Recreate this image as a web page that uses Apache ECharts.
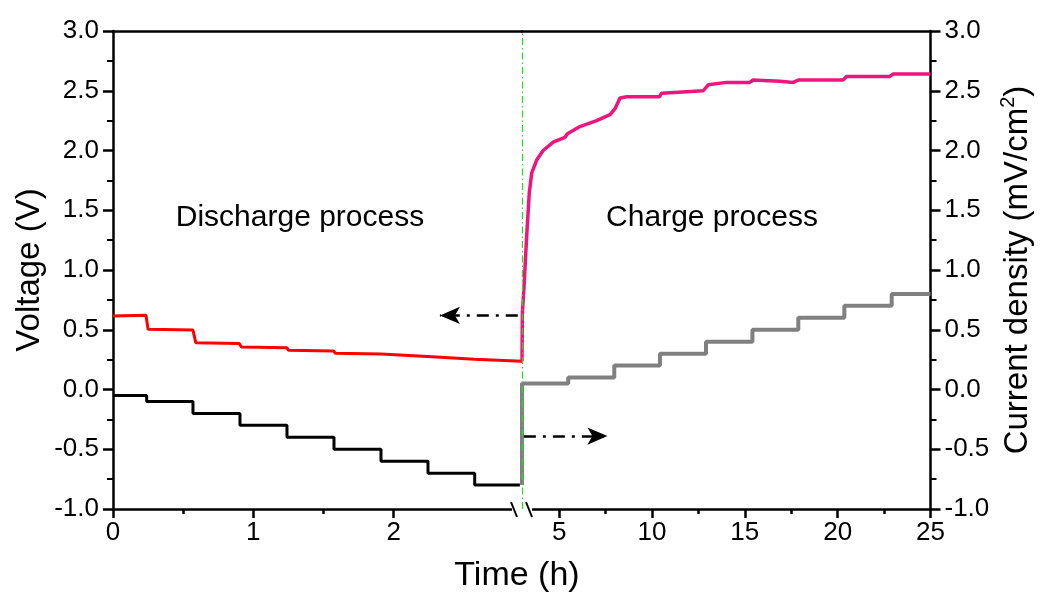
<!DOCTYPE html>
<html><head><meta charset="utf-8">
<script src="https://cdn.jsdelivr.net/npm/echarts@6/dist/echarts.min.js"></script>
<style>html,body{margin:0;padding:0;background:#fff}#c{width:1047px;height:597px}</style>
</head><body><div id="c"></div>
<script>
const FONT = '"Liberation Sans", Arial, Helvetica, sans-serif';

// ---- data (time in h, voltage in V, current density) ----
const dischargeVoltage = [
  [0, 0.615], [0.235, 0.622], [0.25, 0.505], [0.57, 0.497], [0.59, 0.392], [0.9, 0.384],
  [0.915, 0.356], [1.24, 0.35], [1.25, 0.328], [1.572, 0.322], [1.585, 0.303], [1.91, 0.297],
  [1.92, 0.282], [2.242, 0.276], [2.252, 0.26], [2.575, 0.254], [2.585, 0.242], [2.915, 0.236]
];
const dischargeCurrentTime = [0, 0.24, 0.57, 0.905, 1.24, 1.575, 1.91, 2.245, 2.578];
const dischargeCurrentValue = [-0.05, -0.1, -0.2, -0.3, -0.4, -0.5, -0.6, -0.7, -0.8];
const dischargeEnd = 2.9;

const chargeVoltage = [
  [3.0, 0.236], [3.01, 0.45], [3.02, 0.64], [3.11, 0.86], [3.25, 1.28], [3.39, 1.64],
  [3.52, 1.81], [3.79, 1.92], [4.14, 2.0], [4.68, 2.07], [5.31, 2.11], [5.45, 2.14],
  [6.12, 2.2], [7.02, 2.25], [7.74, 2.3], [8.01, 2.35], [8.28, 2.44], [8.64, 2.45],
  [10.4, 2.45], [10.52, 2.48], [12.76, 2.5], [13.03, 2.55], [14.02, 2.57], [15.27, 2.57],
  [15.45, 2.59], [16.89, 2.58], [17.61, 2.57], [17.88, 2.59], [20.29, 2.59], [20.48, 2.62],
  [22.81, 2.62], [22.99, 2.64], [25, 2.64]
];
const chargeCurrentTime = [3.0, 3.0, 5.49, 7.97, 10.43, 12.91, 15.41, 17.88, 20.36, 22.91];
const chargeCurrentValue = [-0.8, 0.05, 0.1, 0.2, 0.3, 0.4, 0.5, 0.6, 0.7, 0.8];
const chargeEnd = 25;

const leftTicks = [0, 1, 2];
const leftMinorTicks = [0.5, 1.5];
const rightTicks = [5, 10, 15, 20, 25];
const rightMinorTicks = [7.5, 12.5, 17.5, 22.5];
const yMin = -1, yMax = 3, yStep = 0.5;

const leftRange = [0, 2.915];
const rightRange = [3.0, 25];

function stepPairs(times, values, endT) {
  const d = times.map((t, i) => [t, values[i]]);
  d.push([endT, values[values.length - 1]]);
  return d;
}

const axisLineStyle = { color: '#000', width: 2.5 };
const labelStyle = { color: '#000', fontSize: 26, fontFamily: FONT };

function xMain(grid, range, ticks) {
  return {
    type: 'value', gridIndex: grid, position: 'bottom', min: range[0], max: range[1],
    axisLine: { show: true, onZero: false, lineStyle: axisLineStyle },
    axisTick: { show: true, inside: false, length: 9, customValues: ticks, lineStyle: { width: 2.5, color: '#000' } },
    axisLabel: Object.assign({ show: true, margin: 11, customValues: ticks }, labelStyle),
    splitLine: { show: false }
  };
}
function xMinor(grid, range, ticks) {
  return {
    type: 'value', gridIndex: grid, position: 'bottom', min: range[0], max: range[1],
    axisLine: { show: false, onZero: false },
    axisTick: { show: true, inside: false, length: 5, customValues: ticks, lineStyle: { width: 2.5, color: '#000' } },
    axisLabel: { show: false, customValues: ticks },
    splitLine: { show: false }
  };
}
function xTop(grid, range) {
  return {
    type: 'value', gridIndex: grid, position: 'top', min: range[0], max: range[1],
    axisLine: { show: true, onZero: false, lineStyle: axisLineStyle },
    axisTick: { show: false }, axisLabel: { show: false }, splitLine: { show: false }
  };
}
function yAx(grid, pos, name, nameGap) {
  return {
    type: 'value', gridIndex: grid, position: pos, min: yMin, max: yMax, interval: yStep,
    name: name, nameLocation: 'middle', nameGap: nameGap, nameRotate: 90,
    nameTextStyle: {
      color: '#000', fontSize: 33, fontFamily: FONT,
      rich: {
        a: { color: '#000', fontSize: 33, fontFamily: FONT, lineHeight: 38 },
        s: { color: '#000', fontSize: 20, fontFamily: FONT, lineHeight: 38, verticalAlign: 'top' }
      }
    },
    axisLine: { show: true, onZero: false, lineStyle: axisLineStyle },
    axisTick: { show: true, inside: false, length: 10, lineStyle: { width: 2.5, color: '#000' } },
    minorTick: { show: true, splitNumber: 2, length: 6, lineStyle: { width: 2, color: '#000' } },
    axisLabel: Object.assign({ margin: 14, formatter: v => v.toFixed(1) }, labelStyle),
    splitLine: { show: false }, minorSplitLine: { show: false }
  };
}

const chart = echarts.init(document.getElementById('c'), null, { renderer: 'canvas' });
chart.setOption({
  backgroundColor: '#fff',
  animation: false,
  grid: [
    { left: 113, top: 31, width: 409, bottom: 88, containLabel: false },
    { left: 522, top: 31, right: 116.5, bottom: 88, containLabel: false }
  ],
  xAxis: [
    xMain(0, leftRange, leftTicks), xMinor(0, leftRange, leftMinorTicks), xTop(0, leftRange),
    xMain(1, rightRange, rightTicks), xMinor(1, rightRange, rightMinorTicks), xTop(1, rightRange)
  ],
  yAxis: [
    yAx(0, 'left', '{a|Voltage (V)}', 64),
    yAx(1, 'right', '{a|Current density (mV/cm}{s|2}{a|)}', 68)
  ],
  series: [
    {
      type: 'line', xAxisIndex: 0, yAxisIndex: 0, data: dischargeVoltage, showSymbol: false, symbol: 'none',
      lineStyle: { color: '#ff0000', width: 3 }, z: 3,
      markLine: {
        silent: true, symbol: ['none', 'arrow'], symbolSize: [13, 20], label: { show: false },
        lineStyle: { color: '#000', width: 2.5, type: [12, 7, 3, 7] },
        data: [[{ coord: [2.885, 0.62] }, { coord: [2.33, 0.62] }]]
      }
    },
    {
      type: 'line', xAxisIndex: 0, yAxisIndex: 0, step: 'end', showSymbol: false, symbol: 'none',
      data: stepPairs(dischargeCurrentTime, dischargeCurrentValue, dischargeEnd),
      lineStyle: { color: '#000', width: 3 }
    },
    {
      type: 'line', xAxisIndex: 3, yAxisIndex: 1, step: 'end', showSymbol: false, symbol: 'none',
      data: stepPairs(chargeCurrentTime, chargeCurrentValue, chargeEnd),
      lineStyle: { color: '#808080', width: 4 },
      markLine: {
        silent: true, symbol: ['none', 'arrow'], symbolSize: [13, 20], label: { show: false },
        lineStyle: { color: '#000', width: 2.5, type: [12, 7, 3, 7] },
        data: [[{ coord: [3.1, -0.39] }, { coord: [7.6, -0.39] }]]
      }
    },
    {
      type: 'line', xAxisIndex: 3, yAxisIndex: 1, data: chargeVoltage, showSymbol: false, symbol: 'none',
      lineStyle: { color: '#f0147c', width: 3.5 }, z: 3,
      markLine: {
        silent: true, symbol: 'none', label: { show: false },
        lineStyle: { color: '#22dd22', width: 1.2, type: [7, 3, 1.5, 3] },
        data: [{ xAxis: 3.0 }]
      }
    }
  ],
  graphic: [
    { type: 'rect', z: 1, shape: { x: 512, y: 505, width: 20, height: 8 }, style: { fill: '#fff' } },
    { type: 'line', z: 5, shape: { x1: 511, y1: 502, x2: 517, y2: 517 }, style: { stroke: '#000', lineWidth: 2 } },
    { type: 'line', z: 5, shape: { x1: 526, y1: 502, x2: 532, y2: 517 }, style: { stroke: '#000', lineWidth: 2 } },
    { type: 'text', z: 10, x: 300, y: 218, style: { text: 'Discharge process', fill: '#000', font: '30px ' + FONT, textAlign: 'center', textVerticalAlign: 'middle' } },
    { type: 'text', z: 10, x: 712, y: 218, style: { text: 'Charge process', fill: '#000', font: '30px ' + FONT, textAlign: 'center', textVerticalAlign: 'middle' } },
    { type: 'text', z: 10, x: 517, y: 576, style: { text: 'Time (h)', fill: '#000', font: '34px ' + FONT, textAlign: 'center', textVerticalAlign: 'middle' } }
  ]
});
</script></body></html>
